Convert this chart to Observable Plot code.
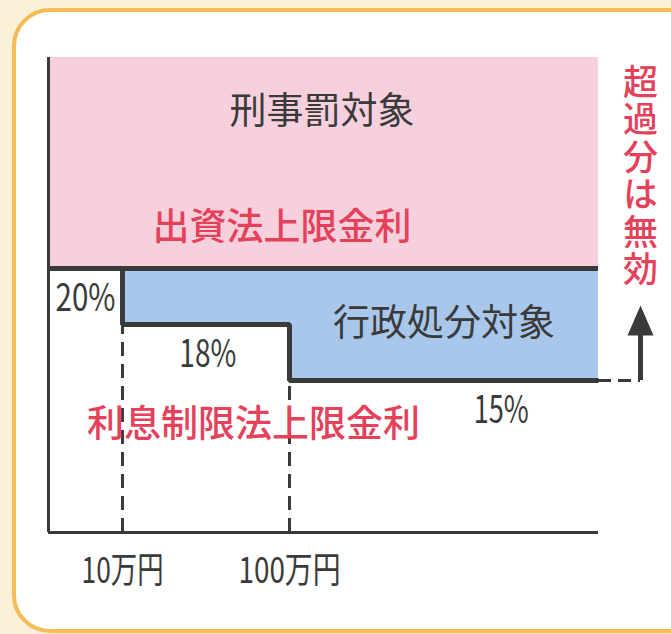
<!DOCTYPE html>
<html lang="ja">
<head>
<meta charset="utf-8">
<script src="https://cdn.jsdelivr.net/npm/d3@7"></script>
<script src="https://cdn.jsdelivr.net/npm/@observablehq/plot@0.6"></script>
<style>
  html, body { margin: 0; padding: 0; background: #fcf0d9; }
  #wrap { position: relative; width: 671px; height: 634px; overflow: hidden; background: #fcf0d9; }
  #frame { position: absolute; left: 12px; top: 8px; width: 700px; height: 625px; box-sizing: border-box;
           border: 4px solid #f5bb55; border-radius: 38px; background: #ffffff; }
  #chart { position: absolute; left: 0; top: 0; }
</style>
</head>
<body>
<div id="wrap"><div id="frame"></div><div id="chart"></div></div>
<script>
// 借入額の区切り（万円）と上限金利（%）
const segStarts = [0, 10, 100];
const segEnd = 300;
const limitRates = [20, 18, 15];          // 利息制限法上限金利
const rateLabels = ["20%", "18%", "15%"];
const shusshiRate = 20;                    // 出資法上限金利
const topRate = 30;
const tickValues = [10, 100];
const tickLabels = ["10万円", "100万円"];
const regionLabels = ["刑事罰対象", "出資法上限金利", "行政処分対象", "利息制限法上限金利"];
const sideNote = "超過分は無効";

const segments = segStarts.map((s, i) => ({
  x1: s, x2: i + 1 < segStarts.length ? segStarts[i + 1] : segEnd,
  rate: limitRates[i], label: rateLabels[i]
}));
const stepPts = segments.map(d => ({x: d.x1, y: d.rate})).concat([{x: segEnd, y: limitRates[limitRates.length - 1]}]);
const arrowX = segEnd + 40;

const ink = "#3a3a3a", red = "#e5415b", pink = "#f6d1dd", blue = "#a9c7ea";
const font = "'Noto Sans CJK JP', 'Noto Sans', sans-serif";

const triangle = {draw(ctx) { ctx.moveTo(0, -15); ctx.lineTo(13, 15); ctx.lineTo(-13, 15); ctx.closePath(); }};

const chart = Plot.plot({
  width: 671, height: 634, margin: 0,
  x: {type: "linear", domain: [0, 10, 100, 300, 340], range: [48, 122, 289, 598, 640], axis: null},
  y: {type: "linear", domain: [0, 15, 18, 20, 30], range: [532, 380, 324, 268, 57], axis: null},
  style: {background: "transparent", fontFamily: font, overflow: "visible"},
  marks: [
    Plot.rect([0], {x1: segStarts[0], x2: segEnd, y1: shusshiRate, y2: topRate, fill: pink}),
    Plot.rect(segments, {x1: "x1", x2: "x2", y1: "rate", y2: shusshiRate, fill: blue}),
    Plot.ruleX(segments.slice(1), {x: "x1", y1: 0, y2: "rate", stroke: ink, strokeWidth: 3, strokeDasharray: "14,8"}),
    Plot.ruleX([segStarts[0]], {y1: 0, y2: topRate, stroke: ink, strokeWidth: 3}),
    Plot.ruleY([0], {x1: segStarts[0], x2: segEnd, stroke: ink, strokeWidth: 3}),
    Plot.ruleY([shusshiRate], {x1: segStarts[0], x2: segEnd, stroke: ink, strokeWidth: 5}),
    Plot.line(stepPts, {x: "x", y: "y", curve: "step-after", stroke: ink, strokeWidth: 5, strokeLinejoin: "miter", strokeLinecap: "butt"}),
    Plot.ruleY([limitRates[2]], {x1: segEnd, x2: arrowX, stroke: ink, strokeWidth: 3, strokeDasharray: "13,7"}),
    Plot.ruleX([arrowX], {y1: limitRates[2], y2: 18.14, stroke: ink, strokeWidth: 5}),
    Plot.dot([arrowX], {x: d => d, y: () => 18.14, symbol: triangle, fill: ink, stroke: "none"}),
    // 金利ラベル
    Plot.text(segments, {x: (d, i) => [5, 56, 237][i], y: "rate", dy: 30, text: "label", fontSize: 38, fill: ink, fontFamily: font}),
    // 軸ラベル
    Plot.text(tickValues, {x: d => d, y: 0, dy: 39, text: (d, i) => tickLabels[i], fontSize: 36, fill: ink, fontFamily: font}),
    // 領域ラベル
    Plot.text([regionLabels[0]], {x: 121, y: 27.4, text: d => d, fontSize: 37, fill: ink, fontFamily: font}),
    Plot.text([regionLabels[1]], {x: 96, y: 21.9, text: d => d, fontSize: 37, fill: red, fontWeight: 500, fontFamily: font}),
    Plot.text([regionLabels[2]], {x: 200, y: 18, text: d => d, fontSize: 37, fill: ink, fontFamily: font}),
    Plot.text([regionLabels[3]], {x: 80.6, y: 10.6, text: d => d, fontSize: 37, fill: red, fontWeight: 500, fontFamily: font}),
    Plot.text([sideNote], {x: arrowX, y: 24.95, text: d => d, fontSize: 35, fill: red, fontWeight: 500, fontFamily: font})
  ]
});
// narrow (condensed) number labels, as in the original typeface
const squeeze = {"20%": 60, "18%": 57, "15%": 55, "10万円": 82, "100万円": 102};
d3.select(chart).selectAll("text").each(function () {
  const t = this.textContent;
  const w = squeeze[t];
  if (w) { this.setAttribute("textLength", w); this.setAttribute("lengthAdjust", "spacingAndGlyphs"); }
  if (t === sideNote) {
    // vertical Japanese writing
    this.setAttribute("writing-mode", "vertical-rl");
    this.style.writingMode = "vertical-rl";
    this.setAttribute("dy", "0");
    this.setAttribute("textLength", 222);
    this.setAttribute("lengthAdjust", "spacing");
  }
});
document.getElementById("chart").appendChild(chart);
</script>
</body>
</html>
